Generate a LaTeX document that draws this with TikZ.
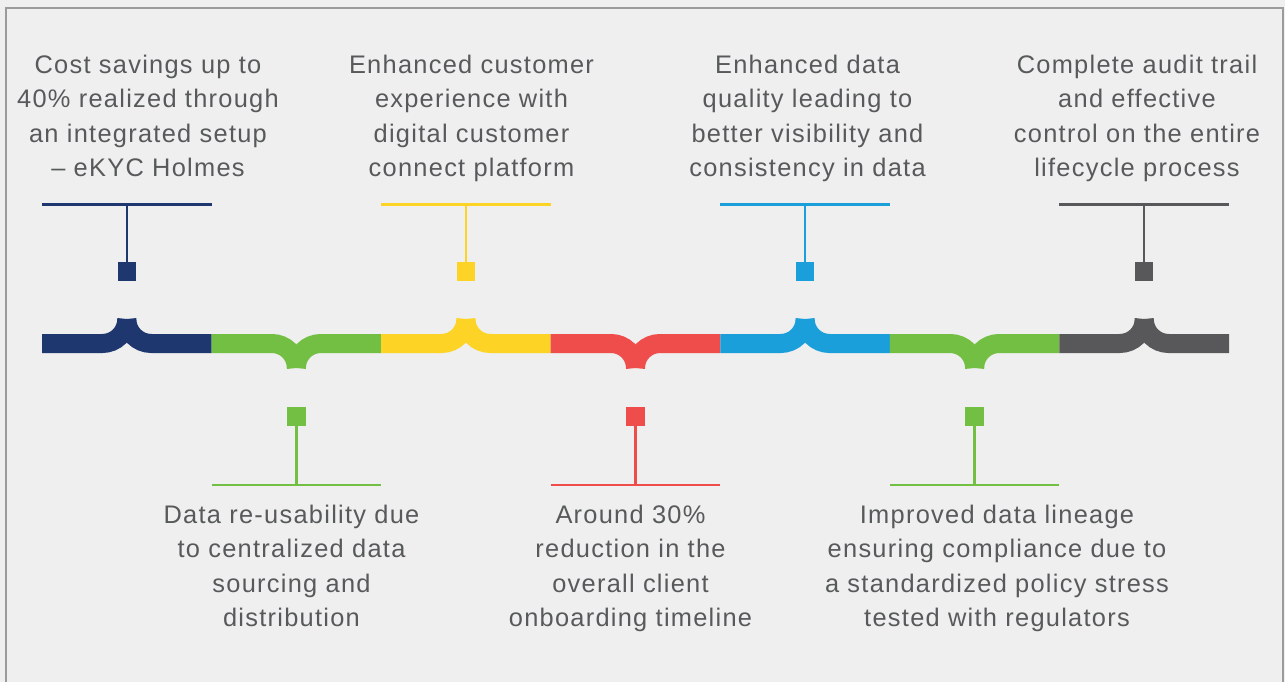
\documentclass[tikz,border=0pt]{standalone}
\usepackage{fontspec}
\setmainfont{Liberation Sans}[LetterSpace=5]
\definecolor{bgc}{HTML}{EEEFEE}
\definecolor{framec}{HTML}{9B9B9B}
\definecolor{txtc}{HTML}{58595B}
\definecolor{cBlue}{HTML}{1F376F}
\definecolor{cGreen}{HTML}{72BF44}
\definecolor{cYellow}{HTML}{FDD425}
\definecolor{cRed}{HTML}{EF4D4B}
\definecolor{cCyan}{HTML}{1A9FDA}
\definecolor{cGray}{HTML}{58585A}
\begin{document}
\begin{tikzpicture}[x=1pt,y=1pt,
  bar/.style={line width=19pt, line cap=butt},
  stem/.style={line width=2.4pt},
  sq/.style={minimum size=18.5pt, inner sep=0pt, outer sep=0pt},
  txt/.style={text=txtc, align=center, inner sep=0pt, font=\fontsize{25.4}{34.4}\selectfont}]
\fill[bgc] (0,0) rectangle (1285,-682);
\useasboundingbox (0,0) rectangle (1285,-682);
\draw[framec, line width=2pt] (5.5,-682) -- (5.5,-8.5) -- (1283,-8.5) -- (1283,-682);
% bar with braces, squares and connectors
\foreach \col/\a/\b/\dir/\n in {cBlue/42/211.6/1/1, cGreen/211.6/381.1/-1/2, cYellow/381.1/550.7/1/3, cRed/550.7/720.3/-1/4, cCyan/720.3/889.9/1/5, cGreen/889.9/1059.4/-1/6, cGray/1059.4/1229/1/7}{
  \pgfmathsetmacro\c{(\a+\b)/2}
  \draw[bar,\col] (\a,-343.5) -- (\c-24.5,-343.5) arc[start angle=-90*\dir, end angle=0, radius=24.5];
  \draw[bar,\col] (\b,-343.5) -- (\c+24.5,-343.5) arc[start angle=-90*\dir, end angle=-180*\dir, radius=24.5];
  \ifnum\dir=1
    \node[sq, fill=\col] (s\n) at (\c,-271.5) {};
    \coordinate (la\n) at (\a,-204.5);
    \coordinate (lb\n) at (\b,-204.5);
    \coordinate (lm\n) at (\c,-204.5);
    \draw[stem,\col] (la\n) -- (lb\n);
    \draw[stem,\col] (s\n.north) -- (lm\n);
  \else
    \node[sq, fill=\col] (s\n) at (\c,-416.7) {};
    \coordinate (la\n) at (\a,-484.7);
    \coordinate (lb\n) at (\b,-484.7);
    \coordinate (lm\n) at (\c,-484.7);
    \draw[stem,\col] (la\n) -- (lb\n);
    \draw[stem,\col] (s\n.south) -- (lm\n);
  \fi
}
% texts (base anchor = baseline of last line)
\node[txt, anchor=base] (t1) at (148,-176.7) {Cost savings up to\\40\% realized through\\an integrated setup\\– eKYC Holmes};
\node[txt, anchor=base] (t3) at (471.5,-176.7) {Enhanced customer\\experience with\\digital customer\\connect platform};
\node[txt, anchor=base] (t5) at (807.5,-176.7) {Enhanced data\\quality leading to\\better visibility and\\consistency in data};
\node[txt, anchor=base] (t7) at (1137,-176.7) {Complete audit trail\\and effective\\control on the entire\\lifecycle process};
\node[txt, anchor=base] (t2) at (291.5,-626.7) {Data re-usability due\\to centralized data\\sourcing and\\distribution};
\node[txt, anchor=base] (t4) at (630.5,-626.7) {Around 30\%\\reduction in the\\overall client\\onboarding timeline};
\node[txt, anchor=base] (t6) at (997,-626.7) {Improved data lineage\\ensuring compliance due to\\a standardized policy stress\\tested with regulators};
\end{tikzpicture}
\end{document}
